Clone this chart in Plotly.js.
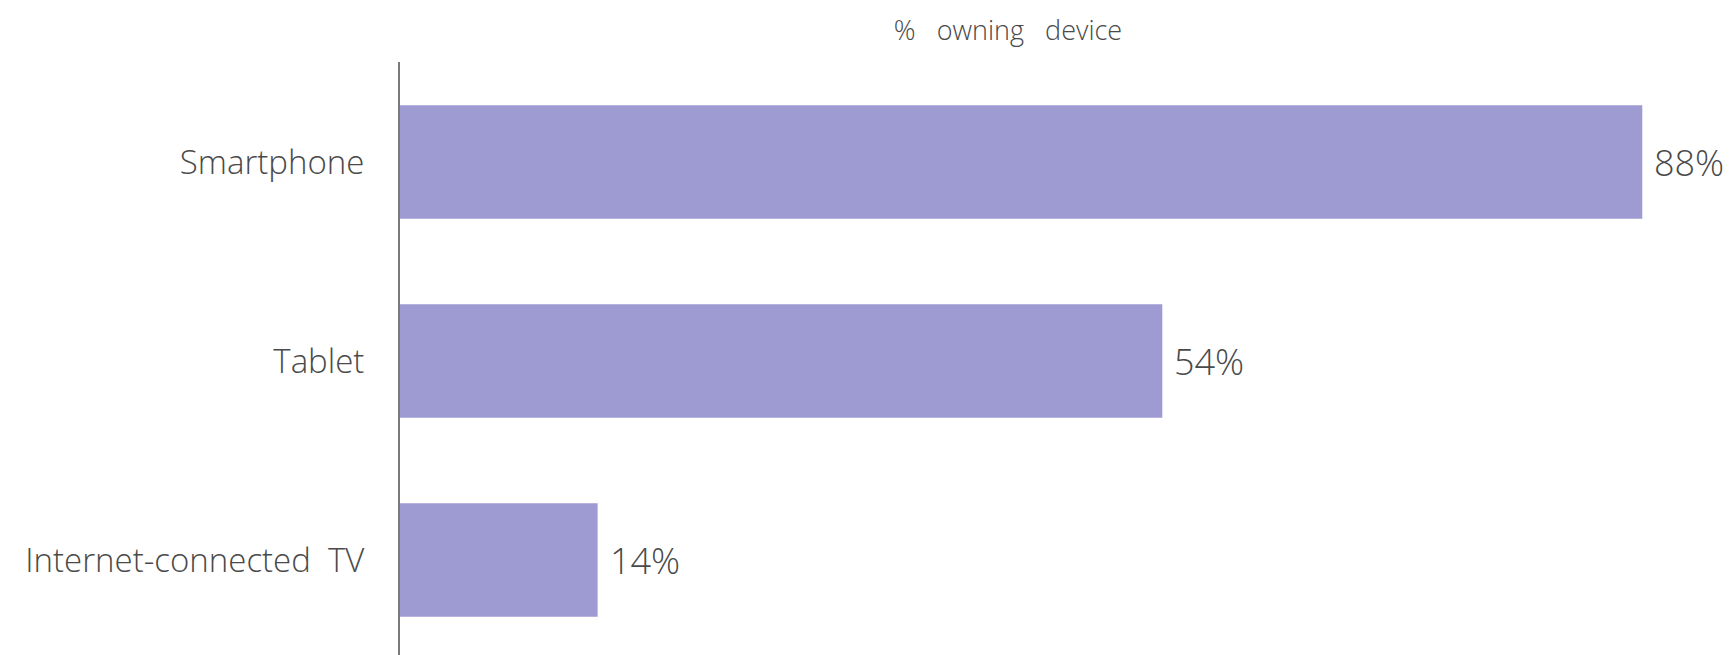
<!DOCTYPE html>
<html>
<head>
<meta charset="utf-8">
<script src="https://cdn.plot.ly/plotly-3.0.1.min.js"></script>
<style>html,body{margin:0;padding:0;background:#fff;}#chart{width:1734px;height:655px;}</style>
</head>
<body>
<div id="chart"></div>
<script>
var categories = ["Smartphone", "Tablet", "Internet-connected\u00a0\u00a0TV"];
var values = [88, 54, 14];
var valueLabels = ["88%", "54%", "14%"];
var chartTitle = "%\u00a0\u00a0\u00a0owning\u00a0\u00a0\u00a0device";

var barColor = "#9e9bd3";
var textColor = "#4a4a4a";
var fontFamily = "'Open Sans', Lato, sans-serif";

var trace = {
  type: "bar",
  orientation: "h",
  x: values,
  y: categories,
  marker: {color: barColor, line: {width: 0}},
  hoverinfo: "none"
};

var annotations = values.map(function (v, i) {
  return {
    x: v, y: categories[i], xref: "x", yref: "y",
    text: valueLabels[i], showarrow: false,
    xanchor: "left", yanchor: "middle", xshift: 10,
    font: {family: fontFamily, size: 36, color: textColor, weight: 300}
  };
});

var layout = {
  width: 1734, height: 655,
  margin: {l: 400, r: 7, t: 62, b: 0},
  paper_bgcolor: "#ffffff", plot_bgcolor: "#ffffff",
  showlegend: false,
  bargap: 0.43,
  title: {
    text: chartTitle,
    xref: "container", yref: "container",
    x: 1008 / 1734, xanchor: "center",
    y: 1 - 31 / 655, yanchor: "middle",
    font: {family: fontFamily, size: 27, color: textColor, weight: 300}
  },
  xaxis: {
    range: [0, 94], showgrid: false, zeroline: false,
    showline: false, showticklabels: false, ticks: "", fixedrange: true
  },
  yaxis: {
    type: "category",
    range: [2.477, -0.5025],
    showgrid: false, zeroline: false,
    showline: true, linecolor: "#7a7a7a", linewidth: 2,
    ticks: "", ticklabelstandoff: 27,
    tickfont: {family: fontFamily, size: 33, color: textColor, weight: 300},
    fixedrange: true
  },
  annotations: annotations
};

Plotly.newPlot("chart", [trace], layout, {displayModeBar: false, staticPlot: true});
</script>
</body>
</html>
